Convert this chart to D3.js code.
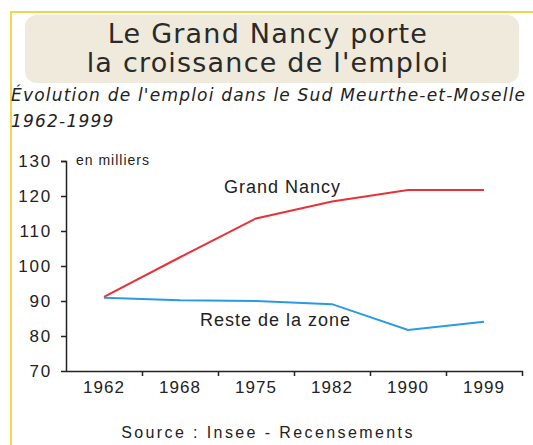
<!DOCTYPE html>
<html>
<head>
<meta charset="utf-8">
<script src="https://cdn.jsdelivr.net/npm/d3@7"></script>
<style>
  body { margin: 0; background: #fff; }
  text { fill: #222; }
</style>
</head>
<body>
<script>
// Emploi dans le Sud Meurthe-et-Moselle, en milliers
var years = ["1962", "1968", "1975", "1982", "1990", "1999"];
var grandNancy = [91.2, 102.5, 113.6, 118.4, 121.7, 121.7];
var resteZone = [90.9, 90.2, 90.0, 89.1, 81.7, 84.1];
var yTicks = [70, 80, 90, 100, 110, 120, 130];

var width = 533, height = 445;
var svg = d3.select("body").append("svg")
    .attr("width", width)
    .attr("height", height);

// yellow frame
svg.append("path")
    .attr("d", "M11,445 V12 H533")
    .attr("fill", "none")
    .attr("stroke", "#f0d64a")
    .attr("stroke-width", 2);

// title box
svg.append("rect")
    .attr("x", 25).attr("y", 15)
    .attr("width", 494).attr("height", 68)
    .attr("rx", 12)
    .attr("fill", "#efeadb");

var titleLines = ["Le Grand Nancy porte", "la croissance de l'emploi"];
svg.selectAll(".title")
    .data(titleLines)
    .enter()
    .append("text")
    .attr("class", "title")
    .attr("x", 268)
    .attr("y", function(d, i) { return 43 + i * 29; })
    .attr("text-anchor", "middle")
    .style("font-family", "'DejaVu Sans'")
    .style("font-size", "27px")
    .style("letter-spacing", "1.2px")
    .style("fill", "#2a2a2a")
    .text(function(d) { return d; });

// subtitle
var subLines = ["Évolution de l'emploi dans le Sud Meurthe-et-Moselle", "1962-1999"];
svg.selectAll(".sub")
    .data(subLines)
    .enter()
    .append("text")
    .attr("class", "sub")
    .attr("x", 11)
    .attr("y", function(d, i) { return 101 + i * 26; })
    .style("font-family", "'DejaVu Sans'")
    .style("font-style", "italic")
    .style("font-size", "17px")
    .style("letter-spacing", "1.2px")
    .text(function(d) { return d; });

// scales
var xScale = d3.scaleBand()
    .domain(years)
    .range([66, 522]);
var yScale = d3.scaleLinear()
    .domain([70, 130])
    .range([371, 161]);

var axisFont = "'Liberation Sans', Arial, sans-serif";

var yAxis = d3.axisLeft(yScale)
    .tickValues(yTicks)
    .tickSize(5)
    .tickPadding(9);
var gy = svg.append("g")
    .attr("transform", "translate(66,0)")
    .call(yAxis);
gy.select(".domain").attr("d", "M-5,161.5H0.5V371.5");

var xAxis = d3.axisBottom(xScale)
    .tickSize(0)
    .tickPadding(10);
var gx = svg.append("g")
    .attr("transform", "translate(0,371)")
    .call(xAxis);
gx.select(".domain").attr("d", "M66,0.5H522.5V5");

// tick marks between the years
gx.selectAll(".sep")
    .data(years.slice(1))
    .enter()
    .append("line")
    .attr("class", "sep")
    .attr("x1", function(d) { return xScale(d) + 0.5; })
    .attr("x2", function(d) { return xScale(d) + 0.5; })
    .attr("y1", 0)
    .attr("y2", 5)
    .attr("stroke", "#222");

svg.selectAll(".domain, .tick line")
    .attr("stroke", "#222")
    .attr("stroke-width", 1.5);
svg.selectAll(".sep").attr("stroke-width", 1.5);
svg.selectAll(".tick text")
    .style("font-family", axisFont)
    .style("font-size", "17px")
    .style("letter-spacing", "1px")
    .attr("fill", "#222");
gy.selectAll(".tick text")
    .style("letter-spacing", "1.8px");

// lines
var line = d3.line()
    .x(function(d, i) { return xScale(years[i]) + xScale.bandwidth() / 2; })
    .y(function(d) { return yScale(d); });

svg.append("path")
    .datum(grandNancy)
    .attr("d", line)
    .attr("fill", "none")
    .attr("stroke", "#e83238")
    .attr("stroke-width", 2);

svg.append("path")
    .datum(resteZone)
    .attr("d", line)
    .attr("fill", "none")
    .attr("stroke", "#2a9be0")
    .attr("stroke-width", 2);

// labels
svg.append("text")
    .attr("x", 76).attr("y", 165)
    .style("font-family", axisFont)
    .style("font-size", "14px")
    .style("letter-spacing", "1px")
    .text("en milliers");

svg.append("text")
    .attr("x", 224).attr("y", 193)
    .style("font-family", axisFont)
    .style("font-size", "18px")
    .style("letter-spacing", "1px")
    .text("Grand Nancy");

svg.append("text")
    .attr("x", 200).attr("y", 326)
    .style("font-family", axisFont)
    .style("font-size", "18px")
    .style("letter-spacing", "1px")
    .text("Reste de la zone");

svg.append("text")
    .attr("x", 268).attr("y", 438)
    .attr("text-anchor", "middle")
    .style("font-family", axisFont)
    .style("font-size", "16px")
    .style("letter-spacing", "2.4px")
    .text("Source : Insee - Recensements");
</script>
</body>
</html>
